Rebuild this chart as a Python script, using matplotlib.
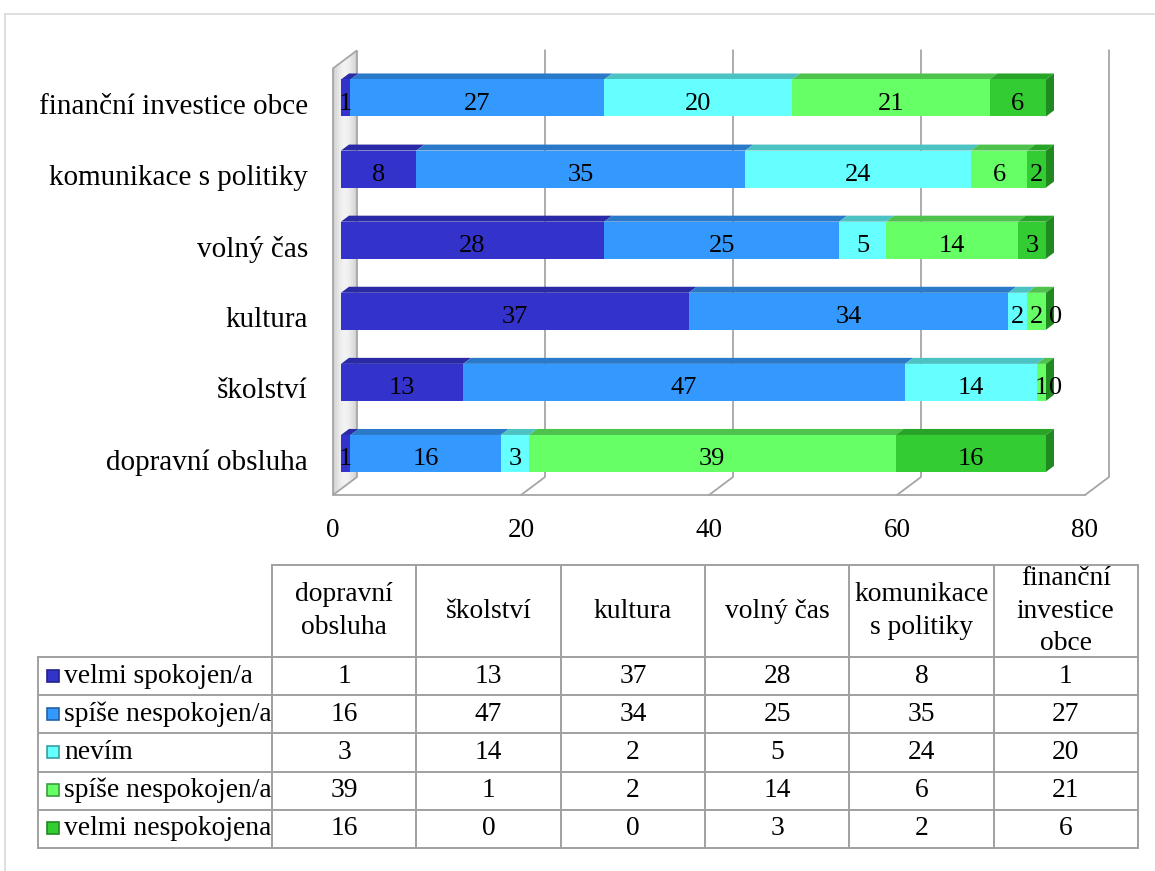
import matplotlib
matplotlib.use("Agg")
import matplotlib.pyplot as plt
import matplotlib.transforms as mtransforms
from matplotlib.patches import Polygon, Rectangle
import numpy as np

plt.rcParams['font.family'] = ['Liberation Serif', 'DejaVu Serif']

# ── Data ──────────────────────────────────────────────────────────────────────
categories = ['dopravní obsluha', 'školství', 'kultura', 'volný čas',
              'komunikace s politiky', 'finanční investice obce']
table_headers = ['dopravní\nobsluha', 'školství', 'kultura', 'volný čas',
                 'komunikace\ns politiky', 'finanční\ninvestice\nobce']
series_names = ['velmi spokojen/a', 'spíše nespokojen/a', 'nevím',
                'spíše nespokojen/a', 'velmi nespokojena']

velmi_spokojen     = [1, 13, 37, 28, 8, 1]
spise_nespokojen_1 = [16, 47, 34, 25, 35, 27]
nevim              = [3, 14, 2, 5, 24, 20]
spise_nespokojen_2 = [39, 1, 2, 14, 6, 21]
velmi_nespokojena  = [16, 0, 0, 3, 2, 6]
series_values = [velmi_spokojen, spise_nespokojen_1, nevim,
                 spise_nespokojen_2, velmi_nespokojena]

x_ticks = [0, 20, 40, 60, 80]

# ── Styles ────────────────────────────────────────────────────────────────────
front_colors = ['#3333CC', '#3399FF', '#66FFFF', '#66FF66', '#33CC33']
top_colors   = ['#2A2AA6', '#2B79C9', '#4DC2C2', '#4DC24D', '#27A327']
side_colors  = ['#22228A', '#2262A6', '#3A9E9E', '#3A9E3A', '#208A20']
GRID = '#A6A6A6'

W, H = 1155, 871
fig = plt.figure(figsize=(W / 100, H / 100), dpi=100)

PX_UNIT = 9.4     # pixels per value unit
ROW_PX = 71.1     # pixels per category row
AX_LEFT, AX_BOTTOM = 341, 489
ax_w = 80 * PX_UNIT
ax_h = 6 * ROW_PX
ax = fig.add_axes([AX_LEFT / W, 1 - AX_BOTTOM / H, ax_w / W, ax_h / H])
ax.set_xlim(0, 80)
ax.set_ylim(-0.5, 5.5)
for s in ax.spines.values():
    s.set_visible(False)
ax.patch.set_visible(False)

# 3D depth (display pixels): box front -> back, bars sit in the middle third
DEPTH = np.array([24.0, 18.0])
FRONT = np.array([-8.0, -6.0])


def to_data(x, y, d):
    p = ax.transData.transform((x, y)) + FRONT + DEPTH * d
    return ax.transData.inverted().transform(p)


# ── Walls & gridlines ─────────────────────────────────────────────────────────
# left wall with a soft grey gradient
n_strips = 12
for k in range(n_strips):
    d0, d1 = k / n_strips, (k + 1) / n_strips
    shade = 0.80 + 0.15 * np.sin(np.pi * (k + 0.5) / n_strips)
    strip = [to_data(0, -0.5, d0), to_data(0, -0.5, d1),
             to_data(0, 5.5, d1), to_data(0, 5.5, d0)]
    ax.add_patch(Polygon(strip, closed=True, facecolor=(shade, shade, shade),
                         edgecolor='none', zorder=1, clip_on=False))
wall = [to_data(0, -0.5, 0), to_data(0, -0.5, 1), to_data(0, 5.5, 1), to_data(0, 5.5, 0)]
ax.add_patch(Polygon(wall, closed=True, facecolor='none', edgecolor=GRID,
                     linewidth=1.3, zorder=1.5, clip_on=False))
for v in x_ticks[1:]:
    pts = np.array([to_data(v, -0.5, 0), to_data(v, -0.5, 1), to_data(v, 5.5, 1)])
    ax.plot(pts[:, 0], pts[:, 1], color=GRID, lw=1.3, zorder=1, clip_on=False)
floor = np.array([to_data(0, -0.5, 0), to_data(80, -0.5, 0)])
ax.plot(floor[:, 0], floor[:, 1], color=GRID, lw=1.3, zorder=1, clip_on=False)

# ── Bars ──────────────────────────────────────────────────────────────────────
BAR_H = 0.52
ypos = np.arange(len(categories))
lefts = np.zeros(len(categories))
label_tr = mtransforms.offset_copy(ax.transData, fig, x=0, y=-6, units='dots')
zero_tr = mtransforms.offset_copy(ax.transData, fig, x=10, y=-6, units='dots')

for i, vals in enumerate(series_values):
    vals = np.array(vals, dtype=float)
    ax.barh(ypos, vals, left=lefts, height=BAR_H, color=front_colors[i],
            edgecolor='none', zorder=3)
    for j in range(len(categories)):
        L, R = lefts[j], lefts[j] + vals[j]
        t = ypos[j] + BAR_H / 2
        top = [to_data(L, t, 1 / 3), to_data(R, t, 1 / 3),
               to_data(R, t, 2 / 3), to_data(L, t, 2 / 3)]
        ax.add_patch(Polygon(top, closed=True, facecolor=top_colors[i],
                             edgecolor='none', zorder=2, clip_on=False))
        if vals[j] > 0:
            ax.text((L + R) / 2, ypos[j], f"{int(vals[j])}", transform=label_tr,
                    ha='center', va='center', fontsize=19, zorder=6)
        else:
            ax.text(L, ypos[j], "0", transform=zero_tr,
                    ha='center', va='center', fontsize=19, zorder=6)
    lefts = lefts + vals

# right-hand end faces
for j in range(len(categories)):
    R = lefts[j]
    b, t = ypos[j] - BAR_H / 2, ypos[j] + BAR_H / 2
    side = [to_data(R, b, 1 / 3), to_data(R, t, 1 / 3),
            to_data(R, t, 2 / 3), to_data(R, b, 2 / 3)]
    ax.add_patch(Polygon(side, closed=True, facecolor=side_colors[-1],
                         edgecolor='none', zorder=3, clip_on=False))

# ── Axis labels ───────────────────────────────────────────────────────────────
ax.set_yticks(ypos)
ax.set_yticklabels(categories, fontsize=21)
ax.tick_params(axis='y', length=0, pad=23.8)
for lab in ax.get_yticklabels():
    lab.set_transform(lab.get_transform() +
                      mtransforms.ScaledTranslation(0, -0.06, fig.dpi_scale_trans))
ax.set_xticks(x_ticks)
ax.set_xticklabels([str(v) for v in x_ticks], fontsize=19.5)
ax.tick_params(axis='x', length=0, pad=21)
for lab in ax.get_xticklabels():
    lab.set_transform(lab.get_transform() +
                      mtransforms.ScaledTranslation(-0.08, 0, fig.dpi_scale_trans))

# ── Data table ────────────────────────────────────────────────────────────────
tab = fig.add_axes([0, 0, 1, 1], zorder=-1)
tab.set_xlim(0, W)
tab.set_ylim(H, 0)
tab.axis('off')

# outer chart frame
tab.plot([5, 5], [14, H], color='#D9D9D9', lw=1.2)
tab.plot([5, W], [14, 14], color='#D9D9D9', lw=1.2)

col_edges = np.linspace(272, 1138, len(categories) + 1)
row_edges = np.linspace(657, 848, len(series_names) + 1)
head_top, row_left = 565, 38
LINE = '#A0A0A0'

tab.plot([col_edges[0], col_edges[-1]], [head_top, head_top], color=LINE, lw=1.4)
for r in row_edges:
    tab.plot([row_left, col_edges[-1]], [r, r], color=LINE, lw=1.4)
tab.plot([row_left, row_left], [row_edges[0], row_edges[-1]], color=LINE, lw=1.4)
for c in col_edges:
    tab.plot([c, c], [head_top, row_edges[-1]], color=LINE, lw=1.4)

for j, hdr in enumerate(table_headers):
    cx = (col_edges[j] + col_edges[j + 1]) / 2
    tab.text(cx, (head_top + row_edges[0]) / 2, hdr, ha='center', va='center',
             fontsize=19.8, linespacing=1.42)

for i, name in enumerate(series_names):
    cy = (row_edges[i] + row_edges[i + 1]) / 2
    tab.add_patch(Rectangle((47, cy - 6.5), 12, 12, facecolor=front_colors[i],
                            edgecolor=side_colors[i], lw=1.2))
    tab.text(64, cy, name, ha='left', va='center', fontsize=19.8)
    for j in range(len(categories)):
        cx = (col_edges[j] + col_edges[j + 1]) / 2
        tab.text(cx, cy, str(series_values[i][j]), ha='center', va='center',
                 fontsize=19.8)

fig.savefig("out.png", dpi=100)
